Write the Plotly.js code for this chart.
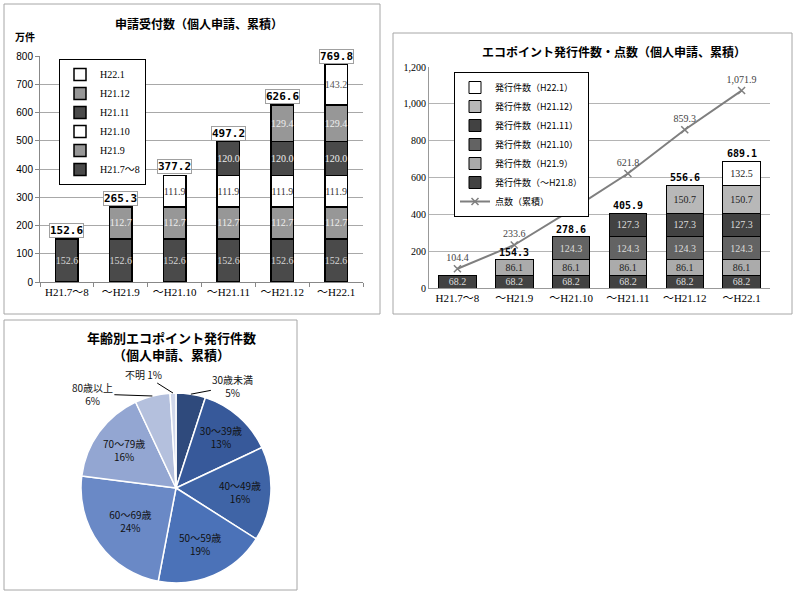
<!DOCTYPE html>
<html><head><meta charset="utf-8">
<script src="https://cdn.plot.ly/plotly-3.0.1.min.js"></script>
<style>html,body{margin:0;padding:0;background:#fff}#chart{width:800px;height:597px}</style>
</head><body><div id="chart"></div>
<script>
// ---------- Chart 1 data: 申請受付数 ----------
const cats = ["H21.7～8", "～H21.9", "～H21.10", "～H21.11", "～H21.12", "～H22.1"];
const appNames = ["H21.7～8", "H21.9", "H21.10", "H21.11", "H21.12", "H22.1"];
const app_H21_7_8 = [152.6, 152.6, 152.6, 152.6, 152.6, 152.6];
const app_H21_9   = [null, 112.7, 112.7, 112.7, 112.7, 112.7];
const app_H21_10  = [null, null, 111.9, 111.9, 111.9, 111.9];
const app_H21_11  = [null, null, null, 120.0, 120.0, 120.0];
const app_H21_12  = [null, null, null, null, 129.4, 129.4];
const app_H22_1   = [null, null, null, null, null, 143.2];
const appTotals   = [152.6, 265.3, 377.2, 497.2, 626.6, 769.8];

// ---------- Chart 2 data: エコポイント発行件数・点数 ----------
const issNames = ["発行件数（～H21.8）", "発行件数（H21.9）", "発行件数（H21.10）", "発行件数（H21.11）", "発行件数（H21.12）", "発行件数（H22.1）"];
const iss_H21_8  = [68.2, 68.2, 68.2, 68.2, 68.2, 68.2];
const iss_H21_9  = [null, 86.1, 86.1, 86.1, 86.1, 86.1];
const iss_H21_10 = [null, null, 124.3, 124.3, 124.3, 124.3];
const iss_H21_11 = [null, null, null, 127.3, 127.3, 127.3];
const iss_H21_12 = [null, null, null, null, 150.7, 150.7];
const iss_H22_1  = [null, null, null, null, null, 132.5];
const issTotals  = [null, 154.3, 278.6, 405.9, 556.6, 689.1];
const pointsName = "点数（累積）";
const points     = [104.4, 233.6, 423.1, 621.8, 859.3, 1071.9];

// ---------- Chart 3 data: 年齢別 ----------
const ageLabels = ["30歳未満", "30～39歳", "40～49歳", "50～59歳", "60～69歳", "70～79歳", "80歳以上", "不明"];
const ageShares = [5, 13, 16, 19, 24, 16, 6, 1];

const SERIF = "Liberation Serif, Noto Sans CJK JP, serif";
const JP = "Noto Sans CJK JP, sans-serif";
const MONO = "DejaVu Sans Mono, monospace";

function px(x){ return x/800; }
function py(y){ return 1 - y/597; }

const data = [];

// chart 1 bars
const appSeries = [app_H21_7_8, app_H21_9, app_H21_10, app_H21_11, app_H21_12, app_H22_1];
const appColors = ["#4a4a4a", "#979797", "#ffffff", "#4a4a4a", "#979797", "#ffffff"];
const appText   = ["#d8d8d8", "#eeeeee", "#333333", "#eeeeee", "#eeeeee", "#555555"];
appSeries.forEach((s, i) => {
  data.push({
    type: "bar", x: cats, y: s, name: appNames[i], xaxis: "x", yaxis: "y", legend: "legend",
    width: 0.42,
    marker: {color: appColors[i], line: {color: "#000", width: 1.5}},
    text: s.map(v => v == null ? "" : v.toFixed(1)),
    textposition: "inside", insidetextanchor: "middle", textangle: 0, constraintext: "none",
    textfont: {family: SERIF, size: 10, color: appText[i]},
    hoverinfo: "skip"
  });
});

// chart 2 line (first so it appears last in reversed legend)
data.push({
  type: "scatter", mode: "lines+markers+text", x: cats, y: points, name: pointsName,
  xaxis: "x2", yaxis: "y2", legend: "legend2",
  line: {color: "#7f7f7f", width: 2},
  marker: {symbol: "x-thin-open", size: 7, color: "#7f7f7f", line: {color: "#7f7f7f", width: 1.5}},
  text: points.map(v => v.toLocaleString("en-US", {minimumFractionDigits: 1, maximumFractionDigits: 1})),
  textposition: "top center",
  textfont: {family: SERIF, size: 10, color: "#444"},
  cliponaxis: false, hoverinfo: "skip"
});

const issSeries = [iss_H21_8, iss_H21_9, iss_H21_10, iss_H21_11, iss_H21_12, iss_H22_1];
const issColors = ["#424242", "#ababab", "#636363", "#424242", "#b8b8b8", "#ffffff"];
const issText   = ["#dddddd", "#222222", "#dddddd", "#dddddd", "#222222", "#222222"];
issSeries.forEach((s, i) => {
  data.push({
    type: "bar", x: cats, y: s, name: issNames[i], xaxis: "x2", yaxis: "y2", legend: "legend2",
    width: 0.66,
    marker: {color: issColors[i], line: {color: "#000", width: 1}},
    text: s.map(v => v == null ? "" : v.toFixed(1)),
    textposition: "inside", insidetextanchor: "middle", textangle: 0, constraintext: "none",
    textfont: {family: SERIF, size: 10, color: issText[i]},
    hoverinfo: "skip"
  });
});

// chart 3 pie
const pieColors = ["#2f4a7c", "#37599a", "#3f64a6", "#4b72b8", "#6a89c6", "#93a6d2", "#b4c0dd", "#d0d7ea"];
const outsideIdx = [0, 6, 7];
const pieCx = 176, pieCy = 488, pieR = 95;
data.push({
  type: "pie", labels: ageLabels, values: ageShares, sort: false, direction: "clockwise", rotation: 0,
  domain: {x: [px(pieCx - pieR), px(pieCx + pieR)], y: [py(pieCy + pieR), py(pieCy - pieR)]},
  marker: {colors: pieColors, line: {color: "#ffffff", width: 1.5}},
  texttemplate: "%{label}<br>%{value}%",
  textposition: ageLabels.map((l, i) => outsideIdx.includes(i) ? "none" : "inside"),
  insidetextorientation: "horizontal",
  textfont: {family: JP, size: 10, color: "#111111"},
  showlegend: false, hoverinfo: "skip"
});

const annotations = [];
function title(x, y, text, size) {
  annotations.push({xref: "paper", yref: "paper", x: px(x), y: py(y), xanchor: "center", yanchor: "middle",
    text: text, showarrow: false, font: {family: JP, size: size, color: "#000"}});
}
title(199, 23, "<b>申請受付数（個人申請、累積）</b>", 12);
title(25, 36, "<b>万件</b>", 10);
title(614, 51, "<b>エコポイント発行件数・点数（個人申請、累積）</b>", 12);
title(171, 346, "<b>年齢別エコポイント発行件数<br>（個人申請、累積）</b>", 13);

// chart 1 total labels
appTotals.forEach((v, i) => {
  annotations.push({xref: "x", yref: "y", x: cats[i], y: v, yanchor: "bottom", yshift: 1, text: "<b>" + v.toFixed(1) + "</b>",
    showarrow: false, bgcolor: "#fff", bordercolor: "#a0a0a0", borderwidth: 1, borderpad: 0,
    font: {family: MONO, size: 11, color: "#000"}});
});
// chart 2 total labels
issTotals.forEach((v, i) => {
  if (v == null) return;
  annotations.push({xref: "x2", yref: "y2", x: cats[i], y: v, yanchor: "bottom", yshift: 0, text: "<b>" + v.toFixed(1) + "</b>",
    showarrow: false, font: {family: MONO, size: 10, color: "#000"}});
});

// pie outside labels with leader lines, anchored from slice mid-angles
const total = ageShares.reduce((a, b) => a + b, 0);
const offsets = {0: [42, -8], 6: [-60, -2], 7: [-30, -19]};
let cum = 0;
ageShares.forEach((v, i) => {
  const mid = (cum + v / 2) / total * 2 * Math.PI;
  cum += v;
  if (!outsideIdx.includes(i)) return;
  const tipX = pieCx + pieR * Math.sin(mid), tipY = pieCy - pieR * Math.cos(mid);
  const txt = i === 7 ? ageLabels[i] + " " + v + "%" : ageLabels[i] + "<br>" + v + "%";
  annotations.push({xref: "paper", yref: "paper", x: px(tipX), y: py(tipY), ax: offsets[i][0], ay: offsets[i][1],
    text: txt, showarrow: true, arrowhead: 0, arrowwidth: 1, arrowcolor: "#000", standoff: 0,
    font: {family: JP, size: 10, color: "#111"}});
});

const boxLine = {color: "#a6a6a6", width: 1};
const shapes = [
  {type: "rect", xref: "paper", yref: "paper", x0: px(4), x1: px(380), y0: py(314), y1: py(4), line: boxLine},
  {type: "rect", xref: "paper", yref: "paper", x0: px(393), x1: px(792), y0: py(314), y1: py(33), line: boxLine},
  {type: "rect", xref: "paper", yref: "paper", x0: px(4), x1: px(297), y0: py(590), y1: py(320), line: boxLine}
];

const layout = {
  width: 800, height: 597, margin: {l: 0, r: 0, t: 0, b: 0},
  paper_bgcolor: "#fff", plot_bgcolor: "rgba(0,0,0,0)",
  barmode: "stack", showlegend: true,
  font: {family: JP, size: 10, color: "#000"},
  xaxis: {domain: [px(40), px(363)], anchor: "y", type: "category", categoryorder: "array", categoryarray: cats,
    showline: true, linecolor: "#888", ticks: "outside", tickson: "boundaries", ticklen: 4, tickcolor: "#888",
    tickfont: {family: SERIF, size: 11, color: "#000"}, fixedrange: true},
  yaxis: {domain: [py(282), py(56)], anchor: "x", range: [0, 800], dtick: 100,
    showline: true, linecolor: "#888", ticks: "outside", ticklen: 4, tickcolor: "#888",
    gridcolor: "#a8a8a8", gridwidth: 1, zeroline: false,
    tickfont: {family: "Liberation Sans, sans-serif", size: 10, color: "#000"}, fixedrange: true},
  xaxis2: {domain: [px(429), px(770)], anchor: "y2", type: "category", categoryorder: "array", categoryarray: cats,
    showline: true, linecolor: "#999", ticks: "",
    tickfont: {family: SERIF, size: 11, color: "#000"}, fixedrange: true},
  yaxis2: {domain: [py(288), py(67)], anchor: "x2", range: [0, 1200], dtick: 200, tickformat: ",",
    showline: true, linecolor: "#999", ticks: "",
    gridcolor: "#b4b4b4", gridwidth: 1, zeroline: false,
    tickfont: {family: SERIF, size: 10, color: "#000"}, fixedrange: true},
  legend: {x: px(59), y: py(59), xanchor: "left", yanchor: "top", traceorder: "reversed",
    bgcolor: "#fff", bordercolor: "#000", borderwidth: 1, font: {family: SERIF, size: 10, color: "#000"},
    itemwidth: 30, tracegroupgap: 0},
  legend2: {x: px(454), y: py(72), xanchor: "left", yanchor: "top", traceorder: "reversed",
    bgcolor: "#fff", bordercolor: "#000", borderwidth: 1, font: {family: JP, size: 9, color: "#000"},
    itemwidth: 30, tracegroupgap: 0},
  annotations: annotations,
  shapes: shapes
};

Plotly.newPlot("chart", data, layout, {staticPlot: true, displayModeBar: false});
</script>
</body></html>
